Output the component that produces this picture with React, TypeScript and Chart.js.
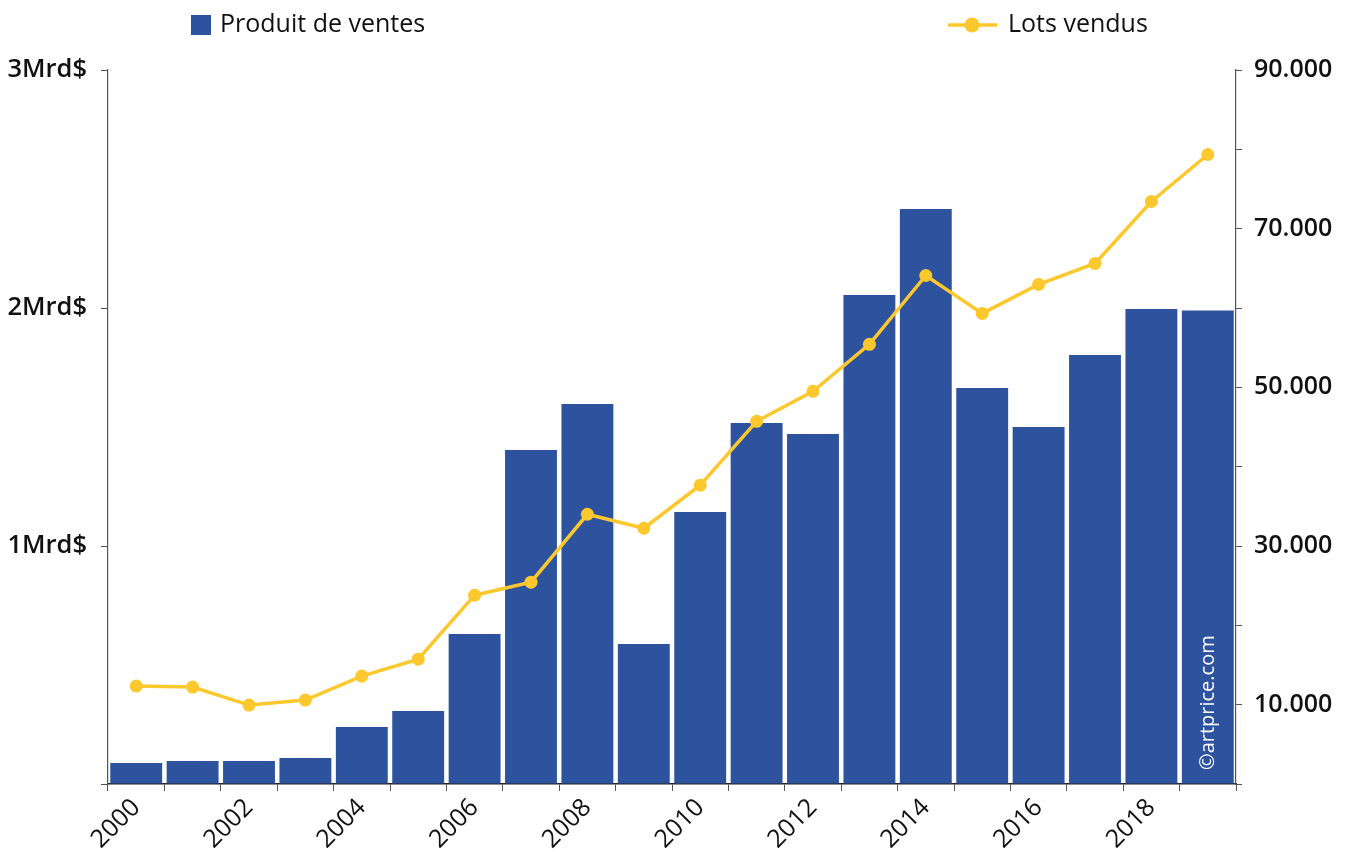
import React, { useEffect, useRef } from "react";
import { Chart, registerables } from "chart.js";

Chart.register(...registerables);

const years = ["2000","2001","2002","2003","2004","2005","2006","2007","2008","2009","2010","2011","2012","2013","2014","2015","2016","2017","2018","2019"];
const salesMrd = [0.088,0.097,0.097,0.109,0.24,0.307,0.63,1.403,1.597,0.588,1.143,1.517,1.471,2.055,2.416,1.664,1.5,1.803,1.996,1.99];
const lotsSold = [12340,12220,9950,10580,13600,15740,23800,25440,34000,32240,37660,45720,49500,55420,64100,59320,62970,65620,73430,79350];
const seriesNames = ["Produit de ventes", "Lots vendus"];
const watermark = "©artprice.com";

const BLUE = "#2D539E";
const YELLOW = "#FCC82E";
const AXIS = "#555555";
const FONT = '"Open Sans", "Noto Sans", sans-serif';

export default function App() {
  const ref = useRef<HTMLCanvasElement | null>(null);
  useEffect(() => {
    if (!ref.current) return;
    const overlay = {
      id: "overlay",
      afterDatasetsDraw(chart: any) {
        const ctx = chart.ctx;
        const xs = chart.scales.x;
        const area = chart.chartArea;
        ctx.save();
        const x = xs.getPixelForValue(years.length - 1);
        ctx.translate(x, area.bottom - 14);
        ctx.rotate(-Math.PI / 2);
        ctx.fillStyle = "#ffffff";
        ctx.font = `20px ${FONT}`;
        ctx.textAlign = "left";
        ctx.textBaseline = "middle";
        ctx.fillText(watermark, 0, 0);
        ctx.restore();
      },
      afterDraw(chart: any) {
        const ctx = chart.ctx;
        ctx.save();
        ctx.font = `25px ${FONT}`;
        ctx.textBaseline = "middle";
        ctx.textAlign = "left";
        ctx.fillStyle = BLUE;
        ctx.fillRect(191, 15, 20, 20);
        ctx.fillStyle = "#111111";
        ctx.fillText(seriesNames[0], 220, 25);
        ctx.strokeStyle = YELLOW;
        ctx.lineWidth = 3.5;
        ctx.beginPath();
        ctx.moveTo(948, 25);
        ctx.lineTo(997, 25);
        ctx.stroke();
        ctx.fillStyle = YELLOW;
        ctx.beginPath();
        ctx.arc(972, 25, 7.5, 0, Math.PI * 2);
        ctx.fill();
        ctx.fillStyle = "#111111";
        ctx.fillText(seriesNames[1], 1008, 25);
        ctx.restore();
      },
    };
    const chart = new Chart(ref.current, {
      type: "bar",
      data: {
        labels: years,
        datasets: [
          {
            type: "line",
            label: seriesNames[1],
            data: lotsSold,
            yAxisID: "y1",
            borderColor: YELLOW,
            backgroundColor: YELLOW,
            borderWidth: 3.5,
            pointRadius: 6.5,
            pointBackgroundColor: YELLOW,
            pointBorderWidth: 0,
            tension: 0,
            order: 0,
          } as any,
          {
            type: "bar",
            label: seriesNames[0],
            data: salesMrd,
            yAxisID: "y",
            backgroundColor: BLUE,
            barPercentage: 0.92,
            categoryPercentage: 1.0,
            order: 1,
          },
        ],
      },
      plugins: [overlay],
      options: {
        responsive: false,
        animation: false,
        layout: { padding: { top: 70, left: 0, right: 0, bottom: 0 } },
        plugins: { legend: { display: false }, tooltip: { enabled: false } },
        scales: {
          x: {
            offset: true,
            grid: { drawOnChartArea: false, drawTicks: true, tickLength: 7, offset: true, color: AXIS },
            border: { display: true, color: "#222222", width: 1.5 },
            ticks: {
              autoSkip: false,
              maxRotation: 45,
              minRotation: 45,
              padding: 2,
              color: "#111111",
              font: { family: FONT, size: 25 },
              callback: (_v: any, i: number) => (i % 2 === 0 ? years[i] : ""),
            },
            afterFit: (s: any) => { s.height = 68; },
          },
          y: {
            position: "left",
            min: 0,
            max: 3,
            grid: { drawOnChartArea: false, drawTicks: true, tickLength: 7, color: AXIS },
            border: { display: true, color: AXIS, width: 1.2 },
            ticks: {
              stepSize: 1,
              padding: 14,
              color: "#111111",
              font: { family: FONT, size: 25.5, weight: "600" },
              callback: (v: any) => (v === 0 ? "" : `${v}Mrd$`),
            },
            afterFit: (s: any) => { s.width = 108; },
          },
          y1: {
            position: "right",
            min: 0,
            max: 90000,
            grid: { drawOnChartArea: false, drawTicks: true, tickLength: 6, color: AXIS },
            border: { display: true, color: AXIS, width: 1.2 },
            ticks: {
              stepSize: 10000,
              padding: 12,
              color: "#111111",
              font: { family: FONT, size: 25, weight: "600" },
              callback: (v: any) => {
                const k = Math.round(v / 10000);
                return k % 2 === 1 ? `${v / 1000}.000` : "";
              },
            },
            afterFit: (s: any) => { s.width = 114; },
          },
        },
      },
    });
    return () => chart.destroy();
  }, []);
  return (
    <div style={{ position: "absolute", left: 0, top: 0, width: 1350, height: 852, background: "#fff" }}>
      <canvas ref={ref} width={1350} height={852} style={{ display: "block" }} />
    </div>
  );
}
